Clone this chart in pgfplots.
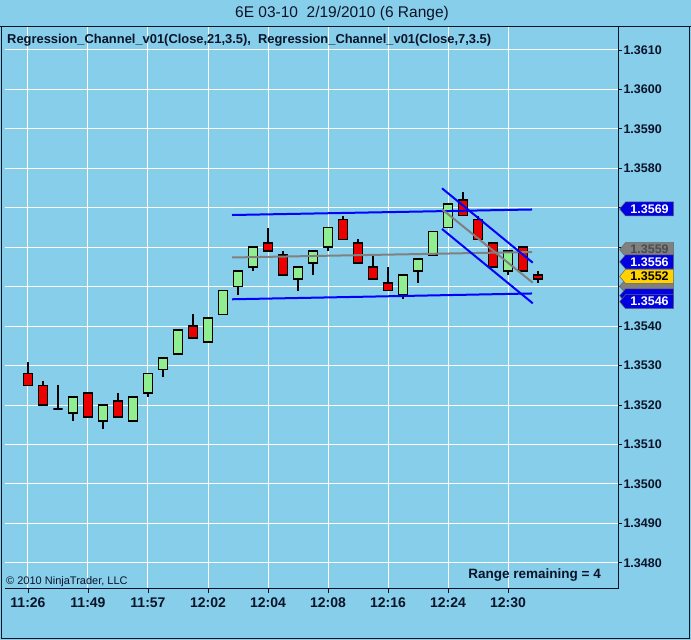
\documentclass[border=0pt]{standalone}
\usepackage{fontspec}
\setmainfont{Liberation Sans}
\usepackage{pgfplots}
\pgfplotsset{compat=1.18}
\usepackage{pgfplotstable}
\usetikzlibrary{shapes.symbols}
\definecolor{bg}{RGB}{135,206,235}
\definecolor{upc}{RGB}{144,238,144}
\definecolor{dnc}{RGB}{235,0,0}
\definecolor{chan}{RGB}{0,0,255}
\definecolor{midc}{RGB}{128,128,128}
\definecolor{flagblue}{RGB}{0,0,225}
\definecolor{flaggold}{RGB}{255,210,0}
\definecolor{txt}{RGB}{10,20,40}
\tikzset{flag/.style={signal, signal to=west, signal pointer angle=100,
    anchor=west, minimum height=14pt, minimum width=54pt, inner sep=1pt,
    inner xsep=2pt, font=\fontsize{12.5}{13}\selectfont\bfseries,
    draw=black!60, line width=0.5pt}}

% i = bar number; O H L C; lo/hi = bottom/top of body
\pgfplotstableread{
i  O      H      L      C      lo     hi
0  1.3528 1.3531 1.3525 1.3525 1.3525 1.3528
1  1.3525 1.3526 1.3520 1.3520 1.3520 1.3525
2  1.3519 1.3525 1.3519 1.3519 1.3519 1.3519
3  1.3518 1.3522 1.3516 1.3522 1.3518 1.3522
4  1.3523 1.3523 1.3517 1.3517 1.3517 1.3523
5  1.3516 1.3520 1.3514 1.3520 1.3516 1.3520
6  1.3521 1.3523 1.3517 1.3517 1.3517 1.3521
7  1.3516 1.3522 1.3516 1.3522 1.3516 1.3522
8  1.3523 1.3528 1.3522 1.3528 1.3523 1.3528
9  1.3529 1.3532 1.3527 1.3532 1.3529 1.3532
10 1.3533 1.3539 1.3533 1.3539 1.3533 1.3539
11 1.3540 1.3543 1.3537 1.3537 1.3537 1.3540
12 1.3536 1.3542 1.3536 1.3542 1.3536 1.3542
13 1.3543 1.3549 1.3543 1.3549 1.3543 1.3549
14 1.3550 1.3554 1.3548 1.3554 1.3550 1.3554
15 1.3555 1.3560 1.3554 1.3560 1.3555 1.3560
16 1.3561 1.3565 1.3559 1.3559 1.3559 1.3561
17 1.3558 1.3559 1.3553 1.3553 1.3553 1.3558
18 1.3552 1.3555 1.3549 1.3555 1.3552 1.3555
19 1.3556 1.3559 1.3553 1.3559 1.3556 1.3559
20 1.3560 1.3565 1.3559 1.3565 1.3560 1.3565
21 1.3567 1.3568 1.3562 1.3562 1.3562 1.3567
22 1.3561 1.3562 1.3556 1.3556 1.3556 1.3561
23 1.3555 1.3558 1.3552 1.3552 1.3552 1.3555
24 1.3551 1.3555 1.3549 1.3549 1.3549 1.3551
25 1.3548 1.3553 1.3547 1.3553 1.3548 1.3553
26 1.3554 1.3557 1.3551 1.3557 1.3554 1.3557
27 1.3558 1.3564 1.3558 1.3564 1.3558 1.3564
28 1.3565 1.3571 1.3565 1.3571 1.3565 1.3571
29 1.3572 1.3574 1.3568 1.3568 1.3568 1.3572
30 1.3567 1.3568 1.3562 1.3562 1.3562 1.3567
31 1.3561 1.3561 1.3555 1.3555 1.3555 1.3561
32 1.3554 1.3559 1.3553 1.3559 1.3554 1.3559
33 1.3560 1.3560 1.3554 1.3554 1.3554 1.3560
34 1.3553 1.3554 1.3551 1.3552 1.3552 1.3553
}\ohlc

\newcommand{\candle}[2]{%
  \pgfplotstablegetelem{#1}{L}\of\ohlc\let\cL\pgfplotsretval
  \pgfplotstablegetelem{#1}{H}\of\ohlc\let\cH\pgfplotsretval
  \pgfplotstablegetelem{#1}{lo}\of\ohlc\let\clo\pgfplotsretval
  \pgfplotstablegetelem{#1}{hi}\of\ohlc\let\chi\pgfplotsretval
  \pgfmathsetmacro\xa{#1-0.31}\pgfmathsetmacro\xb{#1+0.31}%
  \edef\candletmp{%
    \noexpand\addplot[black, line width=1.6pt] coordinates {(#1,\cL) (#1,\cH)};
    \noexpand\addplot[#2] coordinates {(\xa,\clo) (\xb,\clo) (\xb,\chi) (\xa,\chi)} -- cycle;}%
  \candletmp}

\begin{document}
\begin{tikzpicture}[x=1pt,y=1pt]
\useasboundingbox (0,0) rectangle (691,640);
\fill[bg] (0,0) rectangle (691,640);
\draw[txt, line width=1pt] (0,613) -- (691,613);
\draw[txt, line width=1pt] (1.5,613) -- (1.5,1.5) -- (689.5,1.5) -- (689.5,613);
\begin{axis}[
  at={(5pt,51pt)}, anchor=south west,
  scale only axis, width=613pt, height=562pt,
  xmin=-1.533, xmax=39.333,
  ymin=1.347337, ymax=1.361583,
  axis x line*=bottom, axis y line*=right,
  axis line style={-, txt, line width=1pt},
  clip=false,
  tick align=outside, major tick length=4pt,
  tick style={txt, line width=0.8pt},
  xtick={0,4,8,12,16,20,24,28,32},
  xticklabels={11:26,11:49,11:57,12:02,12:04,12:08,12:16,12:24,12:30},
  ytick={1.348,1.349,1.350,1.351,1.352,1.353,1.354,1.355,1.356,1.357,1.358,1.359,1.360,1.361},
  % 1.3550, 1.3560 and 1.3570 are hidden behind the price flags in the reference
  yticklabels={1.3480,1.3490,1.3500,1.3510,1.3520,1.3530,1.3540,{},{},{},1.3580,1.3590,1.3600,1.3610},
  xticklabel style={font=\fontsize{14}{14}\selectfont\bfseries, text=txt, yshift=-1pt},
  yticklabel style={font=\fontsize{12.5}{13}\selectfont\bfseries, text=txt, xshift=-2pt},
  grid=major, major grid style={white, line width=1pt},
  up/.style={draw=black, line width=1.6pt, fill=upc},
  dn/.style={draw=black, line width=1.6pt, fill=dnc},
]
\candle{0}{dn}
\candle{1}{dn}
\candle{2}{dn}
\candle{3}{up}
\candle{4}{dn}
\candle{5}{up}
\candle{6}{dn}
\candle{7}{up}
\candle{8}{up}
\candle{9}{up}
\candle{10}{up}
\candle{11}{dn}
\candle{12}{up}
\candle{13}{up}
\candle{14}{up}
\candle{15}{up}
\candle{16}{dn}
\candle{17}{dn}
\candle{18}{up}
\candle{19}{up}
\candle{20}{up}
\candle{21}{dn}
\candle{22}{dn}
\candle{23}{dn}
\candle{24}{dn}
\candle{25}{up}
\candle{26}{up}
\candle{27}{up}
\candle{28}{up}
\candle{29}{dn}
\candle{30}{dn}
\candle{31}{dn}
\candle{32}{up}
\candle{33}{dn}
\candle{34}{dn}
% 21-bar regression channel
\addplot[chan, line width=2pt] coordinates {(13.6,1.356817) (33.6,1.356957)};
\addplot[midc, line width=2pt] coordinates {(13.6,1.355740) (33.6,1.355880)};
\addplot[chan, line width=2pt] coordinates {(13.6,1.354681) (33.6,1.354828)};
% 7-bar regression channel
\addplot[chan, line width=2pt] coordinates {(27.6,1.357494) (33.65,1.355608)};
\addplot[midc, line width=2pt] coordinates {(27.6,1.356962) (33.65,1.355101)};
\addplot[chan, line width=2pt] coordinates {(27.6,1.356463) (33.65,1.354579)};
% price flags
\node[flag, fill=flagblue, text=white] at (axis cs:39.42,1.356970) {1.3569};
\node[flag, fill=midc, text=black!70] at (axis cs:39.42,1.355940) {1.3559};
\node[flag, fill=flagblue, text=white] at (axis cs:39.42,1.355630) {1.3556};
\node[flag, fill=midc] at (axis cs:39.42,1.355010) {\phantom{1.3551}};
\node[flag, fill=flagblue] at (axis cs:39.42,1.354770) {\phantom{1.3548}};
\node[flag, fill=flagblue, text=white] at (axis cs:39.42,1.354620) {1.3546};
\node[flag, fill=flaggold, text=black] at (axis cs:39.42,1.355260) {1.3552};
\end{axis}
\node[font=\fontsize{15.5}{16}\selectfont, text=txt] at (342,627) {6E 03-10\ \ 2/19/2010 (6 Range)};
\node[anchor=west, font=\fontsize{12.9}{13}\selectfont\bfseries, text=txt, inner sep=0pt] at (7,599.5) {Regression\_Channel\_v01(Close,21,3.5),\ \ Regression\_Channel\_v01(Close,7,3.5)};
\node[anchor=west, font=\fontsize{11}{12}\selectfont, text=txt, inner sep=0pt] at (6,58) {\textcopyright\ 2010 NinjaTrader, LLC};
\node[anchor=east, font=\fontsize{13.5}{14}\selectfont\bfseries, text=txt, inner sep=0pt] at (601,65) {Range remaining = 4};
\end{tikzpicture}
\end{document}
